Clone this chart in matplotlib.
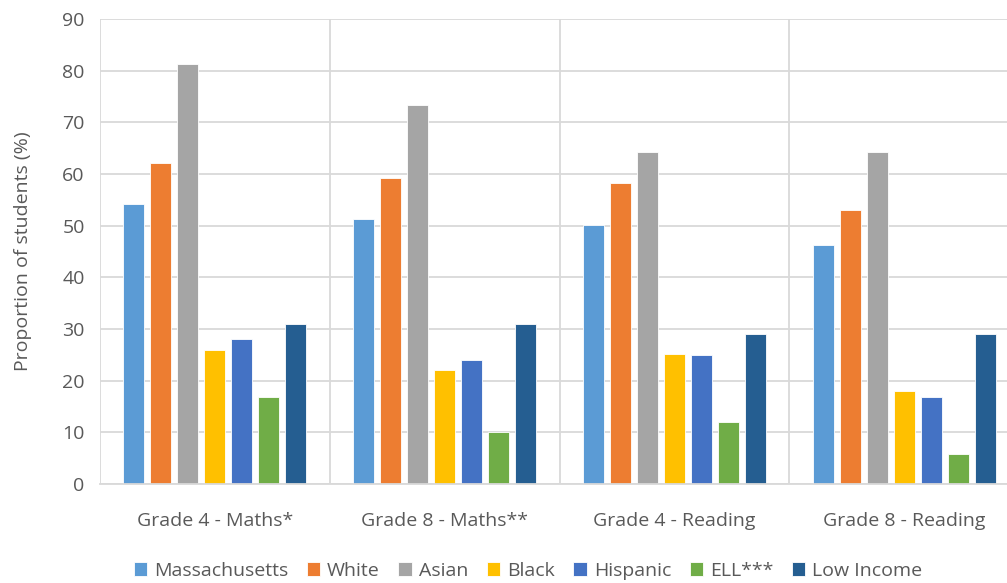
import matplotlib.pyplot as plt
import numpy as np

categories = ['Grade 4 - Maths*', 'Grade 8 - Maths**', 'Grade 4 - Reading', 'Grade 8 - Reading']
groups = ['Massachusetts', 'White', 'Asian', 'Black', 'Hispanic', 'ELL***', 'Low Income']
colors = ['#5b9bd5', '#ed7d31', '#a5a5a5', '#ffc000', '#4472c4', '#70ad47', '#255e91']

massachusetts = [54.2, 51.2, 50.2, 46.2]
white = [62.2, 59.2, 58.2, 53.1]
asian = [81.3, 73.3, 64.3, 64.3]
black = [26.0, 22.0, 25.1, 18.0]
hispanic = [28.1, 24.0, 25.0, 16.9]
ell = [16.9, 10.0, 12.0, 5.9]
low_income = [31.0, 31.0, 29.1, 29.0]

series = [massachusetts, white, asian, black, hispanic, ell, low_income]

plt.rcParams['font.family'] = ['Open Sans', 'DejaVu Sans']
text_col = '#595959'
grid_col = '#d9d9d9'
fs = 14

fig = plt.figure(figsize=(10.07, 5.83), dpi=100)
ax = fig.add_axes([100 / 1007, 1 - 484 / 583, 919 / 1007, 465 / 583])

x = np.arange(len(categories))
slot = 0.1176
bar_w = 0.092
for i, (name, vals) in enumerate(zip(groups, series)):
    offs = (i - 3) * slot
    ax.bar(x + offs, vals, width=bar_w, color=colors[i], label=name,
           edgecolor='white', linewidth=0.6, zorder=3)

ax.set_xlim(-0.5, len(categories) - 0.5)
ax.set_ylim(0, 90)
ax.set_yticks(range(0, 91, 10))
ax.yaxis.grid(True, color=grid_col, linewidth=1.3, zorder=0)
for b in np.arange(-0.5, len(categories), 1.0):
    ax.axvline(b, color=grid_col, linewidth=1.3, zorder=1)

for s in ['top', 'right', 'left']:
    ax.spines[s].set_visible(False)
ax.spines['bottom'].set_color(grid_col)
ax.spines['bottom'].set_linewidth(1.3)
ax.spines['bottom'].set_zorder(4)

ax.set_xticks(x)
ax.set_xticklabels(categories)
ax.tick_params(axis='both', length=0, labelsize=fs, colors=text_col)
ax.tick_params(axis='x', pad=20)
ax.tick_params(axis='y', pad=11)
ax.set_ylabel('Proportion of students (%)', fontsize=fs, color=text_col, labelpad=22)

fig.legend(loc='center', bbox_to_anchor=(528 / 1007, 1 - 571 / 583), ncol=7, frameon=False,
           fontsize=fs, labelcolor=text_col, handlelength=0.7, handleheight=0.7,
           handletextpad=0.35, columnspacing=0.95)

fig.savefig('out.png', dpi=100)
